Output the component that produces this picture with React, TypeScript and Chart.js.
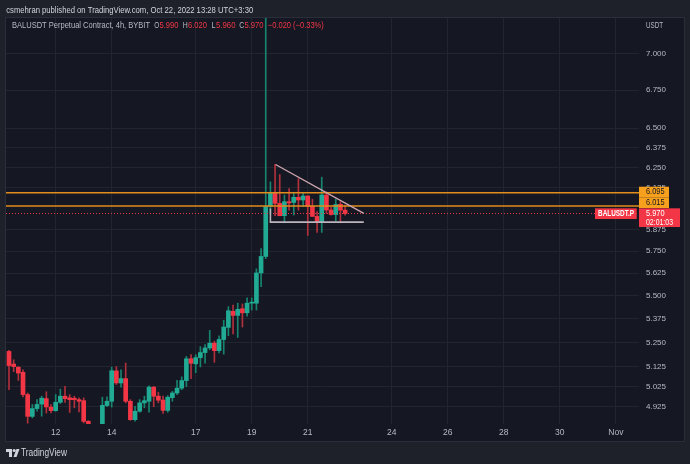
import React, { useEffect, useRef } from 'react';
import { Chart, registerables } from 'chart.js';

Chart.register(...registerables);

// ---- data (4h candles, BALUSDT.P) ----
const opens = [
  5.204, 5.139, 5.123, 5.097, 4.985, 4.878, 4.916, 4.938, 4.965, 4.923,
  4.906, 4.947, 4.977, 4.969, 4.967, 4.960, 4.955, 4.854, 4.830, 4.780,
  4.800, 4.931, 4.952, 5.104, 5.043, 5.065, 4.952, 4.862, 4.903, 4.944,
  4.952, 5.022, 4.977, 4.958, 4.907, 4.970, 4.993, 5.017, 5.055, 5.166,
  5.140, 5.172, 5.198, 5.222, 5.247, 5.208, 5.266, 5.330, 5.416, 5.394,
  5.430, 5.408, 5.460, 5.460, 5.627, 5.720, 6.012, 6.095, 6.031, 5.957,
  6.041, 6.036, 6.067, 6.051, 6.075, 6.012, 5.953, 5.919, 6.081, 5.991,
  5.964, 6.025, 5.990,
];
const highs = [
  5.210, 5.161, 5.126, 5.109, 4.993, 4.936, 4.960, 4.977, 4.999, 4.936,
  4.985, 5.012, 5.026, 4.985, 4.977, 4.969, 4.969, 4.858, 4.838, 4.820,
  4.972, 4.974, 5.123, 5.126, 5.109, 5.144, 4.960, 4.927, 4.960, 4.977,
  5.029, 5.026, 4.996, 4.977, 4.980, 5.001, 5.056, 5.074, 5.178, 5.187,
  5.187, 5.229, 5.240, 5.314, 5.257, 5.286, 5.368, 5.441, 5.450, 5.460,
  5.456, 5.489, 5.489, 5.650, 5.765, 7.600, 6.161, 6.269, 6.206, 6.081,
  6.120, 6.091, 6.181, 6.095, 6.077, 6.055, 5.981, 6.190, 6.100, 6.009,
  6.057, 6.040, 6.020,
];
const lows = [
  5.010, 5.100, 5.056, 4.974, 4.845, 4.871, 4.903, 4.879, 4.894, 4.895,
  4.903, 4.941, 4.946, 4.897, 4.920, 4.900, 4.846, 4.800, 4.750, 4.760,
  4.780, 4.925, 4.923, 5.035, 5.022, 4.944, 4.859, 4.855, 4.898, 4.920,
  4.898, 4.925, 4.944, 4.892, 4.898, 4.952, 4.985, 5.009, 5.025, 5.065,
  5.095, 5.124, 5.144, 5.213, 5.148, 5.196, 5.190, 5.286, 5.296, 5.277,
  5.332, 5.390, 5.423, 5.423, 5.550, 5.708, 5.967, 5.957, 5.957, 5.915,
  5.990, 5.961, 5.990, 6.011, 5.841, 5.951, 5.859, 5.859, 5.971, 5.960,
  5.925, 5.915, 5.960,
];
const closes = [
  5.131, 5.126, 5.093, 4.985, 4.878, 4.916, 4.936, 4.967, 4.924, 4.906,
  4.947, 4.977, 4.965, 4.960, 4.960, 4.952, 4.854, 4.830, 4.780, 4.800,
  4.932, 4.952, 5.105, 5.043, 5.065, 4.952, 4.862, 4.903, 4.944, 4.955,
  5.022, 4.977, 4.957, 4.907, 4.972, 4.993, 5.017, 5.055, 5.166, 5.143,
  5.172, 5.198, 5.222, 5.247, 5.208, 5.266, 5.332, 5.419, 5.394, 5.427,
  5.408, 5.460, 5.462, 5.627, 5.720, 6.011, 6.095, 6.031, 5.957, 6.041,
  6.033, 6.067, 6.051, 6.075, 6.012, 5.953, 5.919, 6.081, 5.991, 5.964,
  6.024, 5.990, 5.970,
];

const priceTicks = [4.925, 5.025, 5.125, 5.25, 5.375, 5.5, 5.625, 5.75, 5.875, 6.125, 6.25, 6.375, 6.5, 6.75, 7.0];
const dayLabels = ['12', '14', '17', '19', '21', '24', '26', '28', '30', 'Nov'];
const dayCandleIndex = [10, 22, 40, 52, 64, 82, 94, 106, 118, 130];
const levelPrices = [6.095, 6.015];
const lastPrice = 5.97;
const countdown = '02:01:03';
const triangleSide = [{ x: 57.1, y: 6.269 }, { x: 76, y: 5.971 }];
const triangleBase = [{ x: 56, y: 6.0 }, { x: 56, y: 5.919 }, { x: 76, y: 5.919 }];

// ---- view / style ----
const X_MIN = -0.643;
const X_MAX = 134.96;
const Y_MIN = 4.8411;
const Y_MAX = 7.2533;

const FRAME = '#1e2129';
const PANE = '#151823';
const GRID = '#21252f';
const TICK = '#b6b9c2';
const UP = '#22ab94';
const DOWN = '#f23645';
const UP_WICK = '#178470';
const DOWN_WICK = '#b0303c';
const ORANGE = '#e08d1e';
const FAM = "'Liberation Sans', 'DejaVu Sans', sans-serif";

function fitText(ctx: CanvasRenderingContext2D, text: string, x: number, y: number, w: number, size: number, weight: string, color: string) {
  ctx.save();
  ctx.font = `${weight} ${size}px ${FAM}`;
  const m = ctx.measureText(text).width || 1;
  ctx.translate(x, y);
  ctx.scale(w / m, 1);
  ctx.fillStyle = color;
  ctx.textBaseline = 'middle';
  ctx.textAlign = 'left';
  ctx.fillText(text, 0, 0);
  ctx.restore();
}

const tvPlugin = {
  id: 'tvdeco',
  beforeDraw(chart: any) {
    const ctx: CanvasRenderingContext2D = chart.ctx;
    const ca = chart.chartArea;
    const ys = chart.scales.y;
    ctx.save();
    ctx.fillStyle = FRAME;
    ctx.fillRect(0, 0, chart.width, chart.height);
    const r = ys.right;
    const b = chart.scales.x.bottom;
    ctx.fillStyle = PANE;
    ctx.fillRect(ca.left, ca.top, r - ca.left, b - ca.top);
    ctx.strokeStyle = '#2a2e39';
    ctx.lineWidth = 1;
    ctx.strokeRect(ca.left - 0.5, ca.top - 0.5, r - ca.left + 1, b - ca.top + 1);
    ctx.restore();
  },
  afterDraw(chart: any) {
    const ctx: CanvasRenderingContext2D = chart.ctx;
    const ca = chart.chartArea;
    const ys = chart.scales.y;
    const ax = ca.right;
    ctx.save();
    // price axis tags
    const y1 = ys.getPixelForValue(levelPrices[0]);
    const y3 = ys.getPixelForValue(lastPrice);
    ctx.fillStyle = '#f7a01d';
    ctx.fillRect(ax, y1 - 6, 30, 10.6);
    ctx.fillRect(ax, y1 + 4.6, 30, 10.7);
    fitText(ctx, levelPrices[0].toFixed(3), ax + 7, y1 - 0.6, 18.5, 8.5, 'normal', '#131722');
    fitText(ctx, levelPrices[1].toFixed(3), ax + 7, y1 + 10, 18.5, 8.5, 'normal', '#131722');
    ctx.fillStyle = DOWN;
    ctx.fillRect(ax, y3 - 5.2, 41, 18.7);
    fitText(ctx, lastPrice.toFixed(3), ax + 7, y3 + 0.2, 18.5, 8.5, 'normal', '#ffffff');
    fitText(ctx, countdown, ax + 7, y3 + 8.8, 27, 8.5, 'normal', '#ffffff');
    ctx.fillRect(ax - 44, y3 - 5.2, 41.7, 10.7);
    fitText(ctx, 'BALUSDT.P', ax - 41, y3 + 0.2, 36, 8.5, 'bold', '#ffffff');
    // header
    fitText(ctx, 'csmehran published on TradingView.com, Oct 22, 2022 13:28 UTC+3:30', 6.2, 10, 247, 9.5, 'normal', '#d1d4dc');
    const n = closes.length - 1;
    const G = '#b6b9c2';
    fitText(ctx, 'BALUSDT Perpetual Contract, 4h, BYBIT', 12, 26, 138, 9, 'normal', G);
    fitText(ctx, 'O', 154.2, 26, 5, 9, 'normal', G);
    fitText(ctx, opens[n].toFixed(3), 159.5, 26, 19, 9, 'normal', DOWN);
    fitText(ctx, 'H', 182.8, 26, 5, 9, 'normal', G);
    fitText(ctx, highs[n].toFixed(3), 188, 26, 19, 9, 'normal', DOWN);
    fitText(ctx, 'L', 211.5, 26, 4, 9, 'normal', G);
    fitText(ctx, lows[n].toFixed(3), 216, 26, 19.5, 9, 'normal', DOWN);
    fitText(ctx, 'C', 239.2, 26, 5, 9, 'normal', G);
    fitText(ctx, closes[n].toFixed(3), 244.5, 26, 19, 9, 'normal', DOWN);
    const ch = closes[n] - closes[n - 1];
    const pct = (ch / closes[n - 1]) * 100;
    fitText(ctx, `${ch < 0 ? '\u2212' : '+'}${Math.abs(ch).toFixed(3)} (${pct < 0 ? '\u2212' : '+'}${Math.abs(pct).toFixed(2)}%)`, 267.8, 26, 56, 9, 'normal', DOWN);
    fitText(ctx, 'USDT', ax + 7, 26, 17, 9, 'normal', G);
    // TradingView logo
    ctx.fillStyle = '#d1d4dc';
    ctx.fillRect(6, 449, 6, 3);
    ctx.fillRect(9, 449, 3, 8);
    ctx.beginPath();
    ctx.arc(14.2, 450.5, 1.6, 0, Math.PI * 2);
    ctx.fill();
    ctx.beginPath();
    ctx.moveTo(16.5, 449);
    ctx.lineTo(19.5, 449);
    ctx.lineTo(16.5, 457);
    ctx.lineTo(13.5, 457);
    ctx.closePath();
    ctx.fill();
    fitText(ctx, 'TradingView', 21, 453, 46, 10, 'normal', '#d1d4dc');
    ctx.restore();
  },
};

export default function App() {
  const ref = useRef<HTMLCanvasElement>(null);
  useEffect(() => {
    document.body.style.margin = '0';
    const canvas = ref.current;
    if (!canvas) return;
    const bodies = closes.map((c, i) => ({ x: i, y: [opens[i], c] }));
    const wicks = closes.map((_c, i) => ({ x: i, y: [lows[i], highs[i]] }));
    const bodyColors = closes.map((c, i) => (c >= opens[i] ? UP : DOWN));
    const wickColors = closes.map((c, i) => (c >= opens[i] ? UP_WICK : DOWN_WICK));
    const hline = (p: number) => [{ x: X_MIN, y: p }, { x: X_MAX, y: p }];
    const lineBase = { type: 'line' as const, pointRadius: 0, fill: false, tension: 0, clip: 0 };

    const chart = new Chart(canvas, {
      type: 'bar',
      data: {
        datasets: [
          { ...lineBase, data: hline(levelPrices[0]), borderColor: ORANGE, borderWidth: 1.5, order: -2 } as any,
          { ...lineBase, data: hline(levelPrices[1]), borderColor: ORANGE, borderWidth: 1.5, order: -2 } as any,
          { ...lineBase, data: hline(lastPrice), borderColor: DOWN, borderWidth: 1, borderDash: [1, 2], order: -1 } as any,
          { ...lineBase, data: triangleSide, borderColor: '#cfa6b0', borderWidth: 1.3, order: -3 } as any,
          { ...lineBase, data: triangleBase, borderColor: '#bdb5bd', borderWidth: 1.6, order: -3 } as any,
          { type: 'bar', data: bodies as any, backgroundColor: bodyColors, barThickness: 4, grouped: false, minBarLength: 1, order: 0, clip: 0 } as any,
          { type: 'bar', data: wicks as any, backgroundColor: wickColors, barThickness: 1, grouped: false, order: 1, clip: 0 } as any,
        ],
      },
      options: {
        responsive: false,
        animation: false,
        events: [],
        layout: { padding: { left: 6, top: 18, right: 6, bottom: 23 } },
        plugins: { legend: { display: false }, tooltip: { enabled: false } },
        scales: {
          x: {
            type: 'linear',
            min: X_MIN,
            max: X_MAX,
            offset: false,
            bounds: 'data',
            afterBuildTicks: (s: any) => {
              s.ticks = dayCandleIndex.map((v) => ({ value: v }));
            },
            afterFit: (s: any) => {
              s.height = 17;
            },
            ticks: {
              autoSkip: false,
              maxRotation: 0,
              padding: 4,
              color: TICK,
              font: { family: FAM, size: 8.5 },
              callback: (_v: any, i: number) => dayLabels[i],
            },
            grid: { color: GRID, drawTicks: false, offset: false },
            border: { display: false },
          },
          y: {
            type: 'logarithmic',
            position: 'right',
            min: Y_MIN,
            max: Y_MAX,
            bounds: 'data',
            afterBuildTicks: (s: any) => {
              s.ticks = priceTicks.map((v) => ({ value: v }));
            },
            afterFit: (s: any) => {
              s.width = 45;
            },
            ticks: {
              autoSkip: false,
              padding: 7,
              color: TICK,
              font: { family: FAM, size: 8 },
              callback: (v: any) => Number(v).toFixed(3),
            },
            grid: { color: GRID, drawTicks: false },
            border: { display: false },
          },
        },
      } as any,
      plugins: [tvPlugin],
    });
    return () => chart.destroy();
  }, []);

  return (
    <div style={{ width: 690, height: 464 }}>
      <canvas ref={ref} width={690} height={464} style={{ display: 'block', width: 690, height: 464 }} />
    </div>
  );
}
